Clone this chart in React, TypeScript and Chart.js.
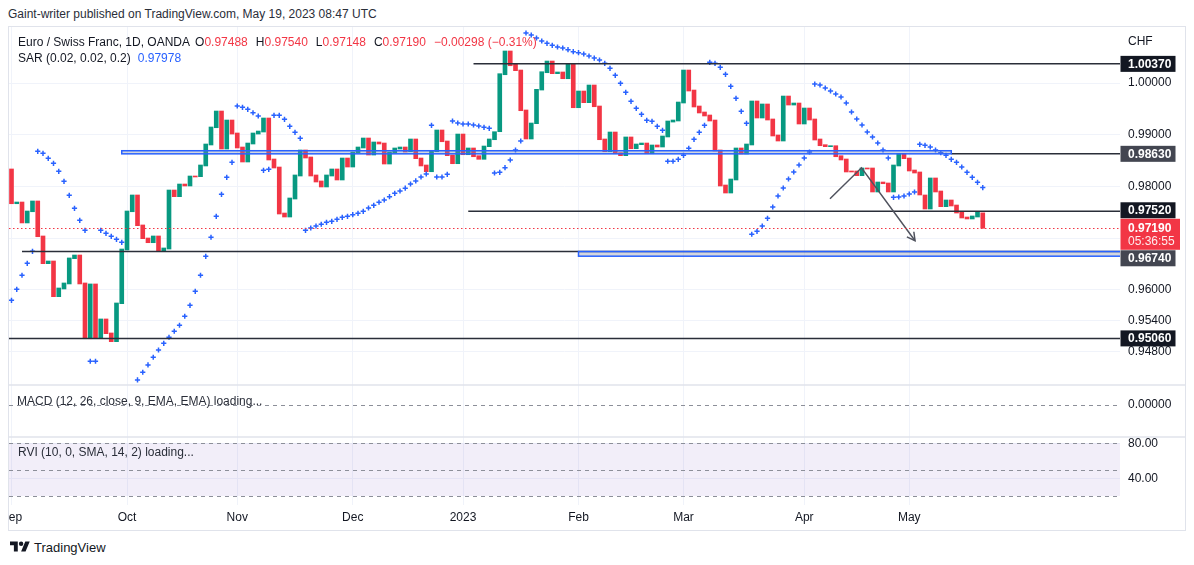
import React, { useEffect, useRef } from 'react';
import { Chart, registerables } from 'chart.js';

Chart.register(...registerables);

// ---------- data ----------
const candleOpen: number[] = [
  0.98337, 0.97665, 0.97698, 0.97293, 0.9751, 0.97718, 0.97041, 0.96505, 0.96557, 0.95867,
  0.96016, 0.96113, 0.96602, 0.96673, 0.96132, 0.95054, 0.96113, 0.95074, 0.95436, 0.95165,
  0.94997, 0.95732, 0.9677, 0.9751, 0.97834, 0.97254, 0.97002, 0.96911, 0.97041, 0.96751,
  0.96789, 0.9793, 0.97801, 0.98046, 0.98008, 0.98201, 0.98188, 0.98395, 0.98801, 0.99135,
  0.99458, 0.98723, 0.99284, 0.99033, 0.98762, 0.98472, 0.9882, 0.99013, 0.99052, 0.99323,
  0.9853, 0.98375, 0.97485, 0.97408, 0.97756, 0.98201, 0.98704, 0.98569, 0.98221, 0.98105,
  0.97989, 0.98201, 0.98337, 0.98124, 0.98549, 0.98375, 0.98646, 0.98743, 0.98936, 0.98607,
  0.98859, 0.98839, 0.98433, 0.98646, 0.98723, 0.98762, 0.98671, 0.98917, 0.98549, 0.98414,
  0.98284, 0.98671, 0.99091, 0.98878, 0.98607, 0.98439, 0.99013, 0.98613, 0.98743, 0.98594,
  0.98524, 0.98768, 0.98903, 0.99058, 1.0016, 1.00619, 1.00361, 1.00251, 0.99478, 0.98917,
  0.99213, 0.99864, 1.00199, 1.00425, 1.0018, 1.00213, 1.00083, 1.00361, 0.99522, 0.99845,
  0.99619, 0.99961, 0.99555, 0.98917, 0.98671, 0.99052, 0.98652, 0.98594, 0.98956, 0.98729,
  0.98807, 0.98839, 0.98632, 0.98801, 0.98762, 0.98956, 0.99245, 0.99265, 0.99613, 1.00251,
  0.99864, 0.99555, 0.99439, 0.99381, 0.99284, 0.98704, 0.98027, 0.97872, 0.98124, 0.98743,
  0.98627, 0.98801, 0.99652, 0.99323, 0.99594, 0.99304, 0.98994, 0.98878, 0.99748, 0.99574,
  0.99613, 0.99207, 0.99516, 0.99304, 0.98917, 0.98807, 0.98768, 0.98787, 0.98594, 0.9853,
  0.98298, 0.98298, 0.98207, 0.98356, 0.98356, 0.97892, 0.98085, 0.98066, 0.97892, 0.98395,
  0.9864, 0.98549, 0.98317, 0.98279, 0.97834, 0.97563, 0.98163, 0.97911, 0.97608, 0.97737,
  0.9764, 0.97505, 0.97408, 0.9737, 0.97408, 0.97488,
];

const candleClose: number[] = [
  0.97665, 0.97698, 0.97293, 0.97524, 0.97718, 0.97027, 0.96505, 0.96557, 0.95867, 0.96035,
  0.96132, 0.96616, 0.96673, 0.96113, 0.95054, 0.96113, 0.95074, 0.95436, 0.95151, 0.94997,
  0.95745, 0.96789, 0.97524, 0.97834, 0.9724, 0.96989, 0.96911, 0.97041, 0.96751, 0.96809,
  0.9793, 0.97801, 0.98046, 0.98008, 0.98201, 0.98182, 0.98414, 0.9882, 0.99149, 0.99458,
  0.98723, 0.99284, 0.99013, 0.98743, 0.98472, 0.98839, 0.99033, 0.99071, 0.99323, 0.98511,
  0.98356, 0.97466, 0.97408, 0.97776, 0.98221, 0.98704, 0.98549, 0.98201, 0.98085, 0.97989,
  0.98221, 0.98337, 0.98124, 0.98549, 0.98375, 0.98665, 0.98762, 0.98936, 0.98607, 0.98859,
  0.9882, 0.98433, 0.98665, 0.98743, 0.98762, 0.98665, 0.98917, 0.98536, 0.98395, 0.98284,
  0.9869, 0.99091, 0.98864, 0.98594, 0.98439, 0.99013, 0.98613, 0.98743, 0.98574, 0.98524,
  0.98781, 0.98917, 0.99058, 1.0018, 1.00619, 1.00334, 1.00238, 0.99464, 0.98917, 0.99226,
  0.99878, 1.00218, 1.00425, 1.0018, 1.00213, 1.00083, 1.00361, 0.99522, 0.99845, 0.99619,
  0.99961, 0.99541, 0.98903, 0.98671, 0.99052, 0.98632, 0.98594, 0.98956, 0.98729, 0.9882,
  0.98839, 0.98632, 0.98801, 0.98762, 0.98975, 0.99265, 0.99284, 0.99632, 1.00251, 0.99845,
  0.99536, 0.9942, 0.99362, 0.99265, 0.98685, 0.98008, 0.97872, 0.98143, 0.98743, 0.98627,
  0.9882, 0.99652, 0.99323, 0.99594, 0.99284, 0.98975, 0.98878, 0.99748, 0.99574, 0.99613,
  0.99207, 0.99516, 0.99284, 0.98897, 0.98787, 0.98768, 0.98787, 0.98574, 0.98511, 0.98279,
  0.98279, 0.98207, 0.98356, 0.98337, 0.97892, 0.98085, 0.98052, 0.97892, 0.98414, 0.9864,
  0.98536, 0.98298, 0.98259, 0.97834, 0.97563, 0.98163, 0.97892, 0.97608, 0.97737, 0.97621,
  0.97485, 0.97389, 0.9737, 0.97428, 0.97505, 0.9719,
];

const sarValues: (number | null)[] = [
  0.95797, 0.9601, 0.96281, 0.96513, 0.96745, 0.98679, 0.9864, 0.98544, 0.98447, 0.98292,
  0.98099, 0.97828, 0.97576, 0.97344, 0.97151, 0.94618, 0.94618, 0.97151, 0.97093, 0.97035,
  0.96977, 0.96919, null, null, 0.94256, 0.94405, 0.94546, 0.94695, 0.94836, 0.94965,
  0.95082, 0.95198, 0.95314, 0.95488, 0.957, 0.95971, 0.96281, 0.96648, 0.97016, 0.97422,
  0.97847, 0.98176, 0.98466, 0.99555, 0.9953, 0.99491, 0.99425, 0.99362, 0.98311, 0.98331,
  0.99375, 0.99375, 0.99298, 0.99162, 0.99046, 0.9893, 0.97151, 0.97195, 0.97234, 0.97268,
  0.97306, 0.97325, 0.97364, 0.97402, 0.97422, 0.97453, 0.9748, 0.97518, 0.97582, 0.97634,
  0.97693, 0.97737, 0.97801, 0.97867, 0.97911, 0.97965, 0.98046, 0.98105, 0.98182, 0.9824,
  0.99182, 0.98182, 0.98182, 0.98234, 0.99265, 0.99226, 0.99207, 0.99207, 0.99188, 0.99168,
  0.99143, 0.99124, 0.98259, 0.98273, 0.98362, 0.98511, 0.98704, 0.98878, 1.00967, 1.00928,
  1.0087, 1.00812, 1.00768, 1.00729, 1.00696, 1.00677, 1.00644, 1.00605, 1.00586, 1.00561,
  1.00522, 1.00483, 1.00445, 1.00381, 1.00284, 1.00149, 0.99994, 0.9982, 0.99646, 0.9951,
  0.99394, 0.99279, 0.99259, 0.99162, 0.99085, 0.98486, 0.98486, 0.98524, 0.98602, 0.98737,
  0.98911, 0.99046, 0.99182, 1.004, 1.00381, 1.00303, 1.00168, 0.99936, 0.99704, 0.99452,
  0.9922, 0.97074, 0.97132, 0.97234, 0.97383, 0.97602, 0.97814, 0.97969, 0.98143, 0.98279,
  0.98414, 0.98549, 0.98665, 0.9998, 0.99961, 0.99903, 0.99845, 0.99787, 0.99729, 0.99613,
  0.99439, 0.99304, 0.99188, 0.99052, 0.98956, 0.98839, 0.98704, 0.98549, 0.97789, 0.97795,
  0.97814, 0.97853, 0.97892, 0.98814, 0.98795, 0.98762, 0.98704, 0.98652, 0.98602, 0.98524,
  0.98466, 0.98375, 0.98273, 0.98176, 0.98079, 0.97978,
];

const monthTickIndex: number[] = [0, 22, 43, 65, 86, 108, 128, 151, 171];
const monthTickLabels: string[] = ['Sep', 'Oct', 'Nov', 'Dec', '2023', 'Feb', 'Mar', 'Apr', 'May'];
const priceTicks: number[] = [1.0, 0.99, 0.98, 0.97, 0.96, 0.954, 0.948];
const hiddenPriceTickLabels: number[] = [0.97];

const levelValues: number[] = [1.0037, 0.9863, 0.9752, 0.9674, 0.9506];
const levelStartIndex: number[] = [88, 179, 87, 2, -1];
const zoneLow: number[] = [0.9863, 0.9665];
const zoneHigh: number[] = [0.9869, 0.9674];
const zoneStartIndex: number[] = [21, 108];
const zoneEndIndex: number[] = [179, 230];
const arrowIndex: number[] = [155.9, 161.9, 172.1];
const arrowPrice: number[] = [0.9776, 0.9836, 0.9695];

const lastPrice = 0.9719;
const countdownText = '05:36:55';
const macdTicks: number[] = [0];
const rviTicks: number[] = [40, 80];
const rviLevels: number[] = [80, 50, 20];
const rviBand: number[] = [20, 80];

// ---------- styling ----------
const FONT = "'Liberation Sans', Arial, sans-serif";
const TEXT = '#131722';
const GRID = '#f0f3fa';
const UP = '#089981';
const DOWN = '#f23645';
const BLUE = '#2962ff';
const X_MIN = -0.476;
const X_MAX = 211.14;
const P_MIN = 0.941586;
const P_MAX = 1.010832;
const levelBoxColor = ['#131722', '#434651', '#131722', '#434651', '#131722'];

const tvPlugin = {
  id: 'tvDrawings',
  beforeDatasetsDraw(chart: any) {
    const { ctx, chartArea, scales } = chart;
    const ym = scales.yMacd;
    const yr = scales.yRvi;
    ctx.save();
    const t = yr.getPixelForValue(rviBand[1]);
    const b = yr.getPixelForValue(rviBand[0]);
    ctx.fillStyle = 'rgba(126, 87, 194, 0.1)';
    ctx.fillRect(chartArea.left, t, chartArea.right - chartArea.left, b - t);
    ctx.setLineDash([4, 4]);
    ctx.strokeStyle = '#8c8f99';
    ctx.lineWidth = 1;
    rviLevels.forEach((v) => {
      const py = Math.round(yr.getPixelForValue(v)) + 0.5;
      ctx.beginPath();
      ctx.moveTo(chartArea.left, py);
      ctx.lineTo(chartArea.right, py);
      ctx.stroke();
    });
    const pz = Math.round(ym.getPixelForValue(0)) + 0.5;
    ctx.beginPath();
    ctx.moveTo(chartArea.left, pz);
    ctx.lineTo(chartArea.right, pz);
    ctx.stroke();
    ctx.restore();
  },
  afterDatasetsDraw(chart: any) {
    const { ctx, chartArea, scales } = chart;
    const x = scales.x;
    const y = scales.y;
    ctx.save();
    ctx.beginPath();
    ctx.rect(chartArea.left, y.top, chartArea.right - chartArea.left, y.bottom - y.top);
    ctx.clip();
    ctx.strokeStyle = '#2a2e39';
    ctx.lineWidth = 1.5;
    levelValues.forEach((v, k) => {
      const py = y.getPixelForValue(v);
      const x0 = Math.max(chartArea.left, x.getPixelForValue(levelStartIndex[k]));
      ctx.beginPath();
      ctx.moveTo(x0, py);
      ctx.lineTo(chartArea.right, py);
      ctx.stroke();
    });
    zoneLow.forEach((lo, k) => {
      const x0 = x.getPixelForValue(zoneStartIndex[k]);
      const x1 = Math.min(x.getPixelForValue(zoneEndIndex[k]), chartArea.right + 2);
      const yt = y.getPixelForValue(zoneHigh[k]);
      const yb = y.getPixelForValue(lo);
      ctx.fillStyle = 'rgba(130, 138, 160, 0.35)';
      ctx.fillRect(x0, yt, x1 - x0, yb - yt);
      ctx.strokeStyle = BLUE;
      ctx.lineWidth = 1.5;
      ctx.strokeRect(x0, yt, x1 - x0, yb - yt);
    });
    const pts = arrowIndex.map((xi, k) => [x.getPixelForValue(xi), y.getPixelForValue(arrowPrice[k])]);
    ctx.strokeStyle = '#50535e';
    ctx.lineWidth = 1.5;
    ctx.beginPath();
    ctx.moveTo(pts[0][0], pts[0][1]);
    for (let k = 1; k < pts.length; k++) ctx.lineTo(pts[k][0], pts[k][1]);
    ctx.stroke();
    const [ax1, ay1] = pts[pts.length - 2];
    const [ax2, ay2] = pts[pts.length - 1];
    const ang = Math.atan2(ay2 - ay1, ax2 - ax1);
    const L = 9;
    ctx.beginPath();
    ctx.moveTo(ax2 - L * Math.cos(ang - 0.5), ay2 - L * Math.sin(ang - 0.5));
    ctx.lineTo(ax2, ay2);
    ctx.lineTo(ax2 - L * Math.cos(ang + 0.5), ay2 - L * Math.sin(ang + 0.5));
    ctx.stroke();
    const cp = Math.round(y.getPixelForValue(lastPrice)) + 0.5;
    ctx.strokeStyle = DOWN;
    ctx.lineWidth = 1;
    ctx.setLineDash([1.5, 2.5]);
    ctx.beginPath();
    ctx.moveTo(chartArea.left, cp);
    ctx.lineTo(chartArea.right, cp);
    ctx.stroke();
    ctx.restore();
  },
  afterDraw(chart: any) {
    const { ctx, scales } = chart;
    const y = scales.y;
    const ym = scales.yMacd;
    ctx.save();
    ctx.strokeStyle = '#e0e3eb';
    ctx.lineWidth = 1.5;
    [y.bottom, ym.bottom].forEach((py: number) => {
      ctx.beginPath();
      ctx.moveTo(0, py);
      ctx.lineTo(chart.width, py);
      ctx.stroke();
    });
    const left = y.left;
    const cp = y.getPixelForValue(lastPrice);
    const redTop = cp - 9.5;
    const redH = 31;
    ctx.font = `bold 12px ${FONT}`;
    ctx.textBaseline = 'middle';
    ctx.textAlign = 'left';
    levelValues.forEach((v, k) => {
      const cy = y.getPixelForValue(v);
      let top = cy - 8;
      if (top < redTop + redH && top + 16 > redTop) {
        top = cy > cp ? redTop + redH + 0.5 : redTop - 16.5;
      }
      ctx.fillStyle = levelBoxColor[k];
      ctx.fillRect(left + 0.5, top, 55, 16);
      ctx.fillStyle = '#ffffff';
      ctx.fillText(v.toFixed(5), left + 8, top + 8.5);
    });
    ctx.fillStyle = DOWN;
    ctx.fillRect(left + 0.5, redTop, 59.5, redH);
    ctx.fillStyle = '#ffffff';
    ctx.fillText(lastPrice.toFixed(5), left + 8, cp + 0.5);
    ctx.font = `12px ${FONT}`;
    ctx.fillStyle = 'rgba(255,255,255,0.9)';
    ctx.fillText(countdownText, left + 8, cp + 13.5);
    ctx.restore();
  },
};

function ChartCanvas() {
  const ref = useRef<HTMLCanvasElement | null>(null);
  useEffect(() => {
    if (!ref.current) return;
    const candles = candleOpen.map((o, i) => ({ x: i, y: [o, candleClose[i]] }));
    const colors = candleOpen.map((o, i) => (candleClose[i] >= o ? UP : DOWN));
    const sarPoints = sarValues
      .map((v, i) => (v == null ? null : { x: i, y: v }))
      .filter((p) => p !== null);
    const tickFont = { family: FONT, size: 12 };
    const chart = new Chart(ref.current, {
      type: 'bar',
      data: {
        datasets: [
          {
            type: 'bar',
            data: candles as any,
            backgroundColor: colors,
            borderWidth: 0,
            barThickness: 4,
            minBarLength: 1,
            xAxisID: 'x',
            yAxisID: 'y',
            order: 2,
          } as any,
          {
            type: 'scatter',
            data: sarPoints as any,
            pointStyle: 'cross',
            pointRadius: 2.6,
            pointBorderWidth: 1.5,
            pointBorderColor: BLUE,
            pointBackgroundColor: BLUE,
            xAxisID: 'x',
            yAxisID: 'y',
            order: 1,
          } as any,
        ],
      },
      options: {
        animation: false,
        responsive: false,
        events: [],
        layout: { padding: 0, autoPadding: false },
        plugins: { legend: { display: false }, tooltip: { enabled: false } },
        scales: {
          x: {
            type: 'linear',
            min: X_MIN,
            max: X_MAX,
            offset: false,
            grid: { color: GRID, drawTicks: false, offset: false },
            border: { display: false },
            ticks: {
              autoSkip: false,
              maxRotation: 0,
              padding: 5,
              color: TEXT,
              font: tickFont,
              callback: (v: any) => {
                const k = monthTickIndex.indexOf(Number(v));
                return k >= 0 ? monthTickLabels[k] : '';
              },
            },
            afterBuildTicks: (s: any) => {
              s.ticks = monthTickIndex.map((v) => ({ value: v }));
            },
            afterFit: (s: any) => {
              s.height = 25;
              s.paddingLeft = 0;
              s.paddingRight = 0;
            },
          },
          y: {
            type: 'linear',
            position: 'right',
            stack: 'panes',
            stackWeight: 358,
            min: P_MIN,
            max: P_MAX,
            grid: { color: GRID, drawTicks: false },
            border: { display: false },
            ticks: {
              autoSkip: false,
              padding: 8,
              color: TEXT,
              font: tickFont,
              callback: (v: any) =>
                hiddenPriceTickLabels.some((h) => Math.abs(h - Number(v)) < 1e-9) ? '' : Number(v).toFixed(5),
            },
            afterBuildTicks: (s: any) => {
              s.ticks = priceTicks.map((v) => ({ value: v }));
            },
            afterFit: (s: any) => {
              s.width = 65;
              s.paddingTop = 0;
              s.paddingBottom = 0;
            },
          },
          yMacd: {
            type: 'linear',
            position: 'right',
            stack: 'panes',
            stackWeight: 52,
            min: -1.6,
            max: 1,
            grid: { display: false, drawTicks: false },
            border: { display: false },
            ticks: { autoSkip: false, padding: 8, color: TEXT, font: tickFont, callback: (v: any) => Number(v).toFixed(5) },
            afterBuildTicks: (s: any) => {
              s.ticks = macdTicks.map((v) => ({ value: v }));
            },
            afterFit: (s: any) => {
              s.width = 65;
              s.paddingTop = 0;
              s.paddingBottom = 0;
            },
          },
          yRvi: {
            type: 'linear',
            position: 'right',
            stack: 'panes',
            stackWeight: 68,
            min: 9.7,
            max: 87.2,
            grid: { color: GRID, drawTicks: false },
            border: { display: false },
            ticks: { autoSkip: false, padding: 8, color: TEXT, font: tickFont, callback: (v: any) => Number(v).toFixed(2) },
            afterBuildTicks: (s: any) => {
              s.ticks = rviTicks.map((v) => ({ value: v }));
            },
            afterFit: (s: any) => {
              s.width = 65;
              s.paddingTop = 0;
              s.paddingBottom = 0;
            },
          },
        } as any,
      },
      plugins: [tvPlugin],
    } as any);
    return () => chart.destroy();
  }, []);
  return <canvas ref={ref} width={1176} height={503} style={{ display: 'block', width: 1176, height: 503 }} />;
}

const abs = (left: number, top: number, extra: React.CSSProperties = {}): React.CSSProperties => ({
  position: 'absolute',
  left,
  top,
  whiteSpace: 'nowrap',
  ...extra,
});

export default function App() {
  const legendFont: React.CSSProperties = { fontFamily: FONT, fontSize: 12, lineHeight: '16px', color: TEXT };
  const red: React.CSSProperties = { color: DOWN };
  return (
    <div
      style={{
        position: 'fixed',
        left: 0,
        top: 0,
        width: 1194,
        height: 565,
        background: '#ffffff',
        overflow: 'hidden',
        fontFamily: FONT,
      }}
    >
      <div style={abs(8, 6, { ...legendFont, color: '#2a2e39' })}>
        Gaint-writer published on TradingView.com, May 19, 2023 08:47 UTC
      </div>
      <div
        style={abs(8, 26, {
          width: 1178,
          height: 505,
          border: '1px solid #e0e3eb',
          boxSizing: 'border-box',
        })}
      >
        <div style={{ position: 'absolute', left: 0, top: 0 }}>
          <ChartCanvas />
        </div>
      </div>
      <div style={abs(18, 34, legendFont)}>
        <span>Euro / Swiss Franc, 1D, OANDA</span>
        <span style={{ marginLeft: 5 }}>O</span>
        <span style={red}>0.97488</span>
        <span style={{ marginLeft: 8 }}>H</span>
        <span style={red}>0.97540</span>
        <span style={{ marginLeft: 8 }}>L</span>
        <span style={red}>0.97148</span>
        <span style={{ marginLeft: 8 }}>C</span>
        <span style={red}>0.97190</span>
        <span style={{ ...red, marginLeft: 8 }}>−0.00298 (−0.31%)</span>
      </div>
      <div style={abs(18, 50, legendFont)}>
        <span>SAR (0.02, 0.02, 0.2)</span>
        <span style={{ color: BLUE, marginLeft: 7 }}>0.97978</span>
      </div>
      <div style={abs(1128, 34, { fontFamily: FONT, fontSize: 12, lineHeight: '14px', color: TEXT })}>CHF</div>
      <div style={abs(17, 393, { ...legendFont, color: '#2a2e39' })}>MACD (12, 26, close, 9, EMA, EMA) loading...</div>
      <div style={abs(18, 444, { ...legendFont, color: '#2a2e39' })}>RVI (10, 0, SMA, 14, 2) loading...</div>
      <div style={abs(10, 539, { display: 'flex', alignItems: 'center', gap: 4 })}>
        <svg width="20" height="16" viewBox="0 0 36 28">
          <path d="M14 22H7V11H0V4h14v18zM28 22h-8l7.5-18h8L28 22z" fill="#131722" />
          <circle cx="20" cy="8" r="4" fill="#131722" />
        </svg>
        <span style={{ fontFamily: FONT, fontSize: 13, color: '#131722' }}>TradingView</span>
      </div>
    </div>
  );
}
